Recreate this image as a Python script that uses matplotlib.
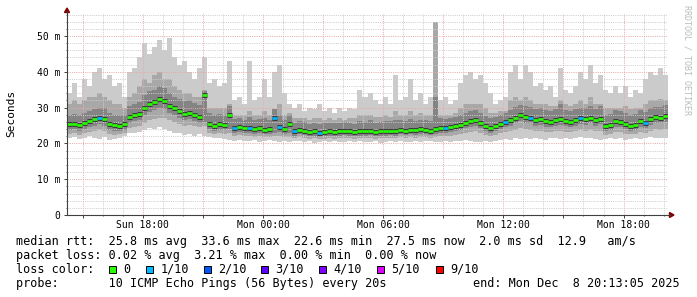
import numpy as np
import pandas as pd
import matplotlib
matplotlib.use('Agg')
import matplotlib.pyplot as plt
import matplotlib.dates as mdates
from matplotlib.ticker import MultipleLocator, FuncFormatter
from matplotlib.patches import Rectangle, Polygon
from matplotlib.lines import Line2D

plt.rcParams['font.family'] = ['DejaVu Sans Mono']

# ---------------- data (15-minute steps, values in ms) ----------------
start_time = '2025-12-07 14:13:05'
step = '15min'

median = [25.3, 25.5, 25.2, 25.6, 26.2, 26.8, 27.2, 26.8, 25.5, 25.2,
          25.0, 25.3, 27.4, 28.0, 28.3, 29.8, 31.0, 31.6, 32.5, 31.8,
          30.4, 29.8, 29.0, 28.3, 28.6, 28.0, 27.5, 33.6, 25.5, 25.0,
          25.3, 25.2, 28.0, 24.3, 24.5, 24.2, 24.4, 24.0, 24.3, 23.8,
          24.0, 27.0, 24.5, 24.0, 25.5, 23.5, 23.8, 23.6, 23.2, 23.4,
          23.0, 23.3, 23.5, 23.3, 23.4, 23.6, 23.4, 23.2, 23.5, 23.4,
          23.6, 23.2, 23.5, 23.4, 23.6, 23.5, 23.8, 23.6, 23.8, 23.7,
          24.0, 23.8, 23.6, 24.0, 24.4, 24.3, 24.6, 24.8, 25.2, 25.8,
          26.2, 26.5, 25.6, 24.8, 24.4, 24.8, 25.4, 26.0, 26.4, 27.2,
          27.8, 27.4, 27.2, 26.5, 26.8, 26.2, 26.0, 26.6, 26.8, 26.3,
          26.0, 26.5, 27.0, 26.8, 27.2, 26.6, 26.9, 24.8, 25.2, 26.2,
          26.0, 25.3, 25.0, 25.2, 26.2, 25.8, 26.8, 27.3, 27.2, 27.6]

loss = [0, 0, 0, 0, 0, 0, 1, 0, 0, 0, 0, 0, 0, 0, 0, 0, 0, 0, 0, 0,
        0, 0, 0, 0, 0, 0, 0, 0, 0, 0, 0, 0, 0, 1, 0, 0, 1, 0, 0, 0,
        0, 1, 1, 0, 0, 1, 0, 0, 0, 0, 1, 0, 0, 0, 0, 0, 0, 0, 0, 0,
        0, 0, 0, 0, 0, 0, 0, 0, 0, 0, 0, 0, 0, 0, 0, 1, 0, 0, 0, 0,
        0, 0, 0, 0, 0, 0, 0, 1, 0, 0, 0, 0, 1, 0, 0, 0, 0, 0, 0, 0,
        0, 0, 1, 0, 0, 0, 0, 0, 0, 0, 0, 0, 0, 0, 0, 1, 0, 0, 0, 0]

ping_max = [34, 37, 33, 38, 36, 40, 41, 38, 39, 36,
            37, 33, 40, 41, 44, 48, 45, 47, 49, 46,
            49.5, 44, 42, 43, 40, 38, 41, 44, 37, 38,
            36, 37, 43, 32, 33, 31, 43, 32, 33, 38,
            33, 40, 42, 34, 31, 30, 31, 29, 30, 29.5,
            31, 29, 30, 28.5, 30, 29, 30, 29.5, 35, 33,
            34, 32, 31, 33, 31, 39, 32, 33, 38, 32,
            34, 31, 33, 35, 32, 33, 31, 32, 37, 39,
            40, 38, 39, 37, 34, 31, 32, 33, 40, 42,
            38, 42, 40, 36, 37, 35, 36, 33, 41, 35,
            34, 36, 40, 38, 42, 37, 39, 35, 34, 36,
            34, 36, 33, 35, 34, 38, 40, 39, 41, 39]

ping_min = [21.5, 21.8, 21.2, 21.6, 22.0, 21.5, 21.3, 21.8, 21.0, 21.2,
            21.6, 22.0, 22.8, 23.0, 23.2, 23.8, 24.2, 24.0, 24.5, 24.0,
            23.6, 23.0, 22.8, 22.4, 22.6, 22.0, 22.5, 22.2, 21.8, 21.5,
            21.6, 21.2, 21.0, 20.8, 21.0, 20.6, 20.8, 21.0, 20.5, 20.8,
            21.0, 20.6, 20.4, 20.8, 20.5, 20.6, 20.8, 20.4, 20.6, 20.2,
            20.5, 20.8, 20.4, 20.6, 20.3, 20.5, 20.7, 20.4, 20.6, 20.3,
            20.5, 20.6, 20.2, 20.5, 20.7, 20.4, 20.6, 20.3, 20.5, 20.7,
            20.4, 20.6, 20.8, 20.5, 20.4, 20.7, 20.5, 20.8, 20.6, 21.0,
            20.8, 20.5, 20.3, 20.6, 20.4, 20.8, 21.0, 21.2, 21.0, 21.4,
            21.2, 21.5, 21.2, 21.6, 21.3, 21.0, 21.4, 21.6, 21.2, 21.5,
            21.3, 21.6, 21.8, 21.4, 21.6, 21.2, 21.0, 21.3, 21.5, 21.2,
            21.4, 21.0, 21.3, 21.5, 21.2, 21.6, 21.8, 21.4, 21.6, 21.5]

mid_hi = [31, 32, 31, 32, 33, 33, 34, 33, 32, 31,
          31, 30, 33, 34, 36, 38, 37, 39, 40, 38,
          38, 36, 35, 34, 34, 33, 33, 35, 30, 30,
          30, 30, 31, 28, 28, 28, 29, 28, 28, 29,
          28, 29, 31, 28, 28.5, 27, 27, 27, 26.5, 27,
          27, 26.5, 27, 26.5, 27, 26.5, 27, 27, 28, 28,
          28, 27.5, 27.5, 28, 27.5, 29, 28, 28, 29, 28,
          28.5, 28, 28, 54, 28, 28, 28, 28.5, 30, 31,
          31, 31, 31, 30, 28.5, 28.5, 29, 29, 32, 33,
          32, 33, 32, 31, 31, 31, 30.5, 30.5, 32, 31,
          30.5, 31, 32, 31, 33, 31, 31, 30, 30, 30,
          30, 30.5, 29.5, 30, 30, 31, 32, 32, 32.5, 32]

mid_lo = [22.6, 22.8, 22.4, 22.8, 23.2, 23.6, 23.8, 23.5, 22.6, 22.4,
          22.5, 22.8, 24.2, 24.6, 24.8, 25.8, 26.5, 26.8, 27.2, 27.0,
          26.4, 26.0, 25.5, 25.0, 25.2, 24.8, 24.5, 24.8, 23.0, 22.6,
          22.8, 22.6, 23.0, 22.2, 22.3, 22.0, 22.2, 21.9, 22.1, 21.8,
          21.9, 22.0, 22.2, 21.9, 21.8, 21.5, 21.7, 21.5, 21.2, 21.4,
          21.1, 21.3, 21.5, 21.3, 21.4, 21.5, 21.4, 21.2, 21.5, 21.4,
          21.5, 21.2, 21.5, 21.4, 21.5, 21.5, 21.7, 21.5, 21.7, 21.6,
          21.8, 21.7, 21.5, 21.8, 22.0, 22.0, 22.2, 22.4, 22.6, 23.0,
          23.2, 23.4, 22.8, 22.3, 22.0, 22.3, 22.8, 23.2, 23.4, 23.8,
          24.2, 24.0, 23.8, 23.4, 23.6, 23.2, 23.1, 23.5, 23.6, 23.3,
          23.1, 23.4, 23.7, 23.6, 23.8, 23.5, 23.6, 22.4, 22.6, 23.2,
          23.1, 22.7, 22.5, 22.6, 23.2, 23.0, 23.6, 23.9, 23.8, 24.0]

inner_hi = [28.0, 28.2, 27.8, 28.4, 29.0, 29.6, 30.0, 29.8, 28.5, 28.0,
            27.8, 28.0, 30.5, 31.0, 31.5, 33.5, 34.5, 35.0, 36.0, 35.5,
            34.0, 33.0, 32.5, 31.8, 32.0, 31.2, 30.8, 34.5, 28.5, 28.0,
            28.2, 28.0, 30.5, 26.8, 27.0, 26.6, 27.5, 26.5, 26.8, 27.0,
            26.5, 29.5, 28.0, 26.5, 28.0, 25.8, 26.2, 26.0, 25.5, 25.8,
            25.4, 25.6, 25.8, 25.6, 25.8, 26.0, 25.8, 25.5, 26.2, 26.0,
            26.4, 25.8, 26.0, 26.2, 26.2, 26.5, 26.4, 26.2, 26.8, 26.3,
            26.6, 26.4, 26.2, 33.0, 27.0, 26.8, 27.2, 27.5, 28.0, 28.6,
            29.0, 29.4, 28.6, 27.6, 27.0, 27.4, 28.0, 28.6, 29.4, 30.2,
            30.8, 30.5, 30.2, 29.5, 29.8, 29.2, 29.0, 29.5, 31.0, 29.4,
            29.0, 29.5, 30.0, 29.8, 30.4, 29.6, 30.5, 28.0, 28.2, 29.2,
            29.0, 28.4, 28.0, 28.2, 29.2, 28.8, 29.8, 30.3, 30.2, 30.6]

inner_lo = [23.7, 23.9, 23.6, 24.0, 24.6, 25.0, 25.4, 25.0, 23.8, 23.6,
            23.4, 23.7, 25.6, 26.2, 26.5, 27.8, 28.8, 29.4, 30.0, 29.6,
            28.4, 28.0, 27.2, 26.6, 26.8, 26.2, 25.8, 26.0, 24.0, 23.6,
            23.8, 23.7, 24.0, 23.0, 23.2, 22.9, 23.0, 22.7, 23.0, 22.5,
            22.7, 23.0, 23.1, 22.7, 22.8, 22.2, 22.5, 22.3, 22.0, 22.1,
            21.8, 22.0, 22.2, 22.0, 22.1, 22.3, 22.1, 22.0, 22.2, 22.1,
            22.3, 22.0, 22.2, 22.1, 22.3, 22.2, 22.5, 22.3, 22.5, 22.4,
            22.7, 22.5, 22.3, 22.7, 23.0, 23.0, 23.2, 23.4, 23.8, 24.3,
            24.7, 25.0, 24.2, 23.4, 23.0, 23.4, 24.0, 24.5, 24.9, 25.6,
            26.2, 25.8, 25.6, 25.0, 25.2, 24.7, 24.5, 25.0, 25.2, 24.8,
            24.5, 25.0, 25.4, 25.2, 25.6, 25.0, 25.3, 23.4, 23.8, 24.7,
            24.5, 23.9, 23.6, 23.8, 24.7, 24.3, 25.2, 25.7, 25.6, 26.0]

y_ticks = [0, 10, 20, 30, 40, 50]

legend_rows = [
    "median rtt:  25.8 ms avg  33.6 ms max  22.6 ms min  27.5 ms now  2.0 ms sd  12.9   am/s",
    "packet loss: 0.02 % avg  3.21 % max  0.00 % min  0.00 % now",
    "loss color:",
    "probe:       10 ICMP Echo Pings (56 Bytes) every 20s",
]
end_text = "end: Mon Dec  8 20:13:05 2025"
loss_labels = ['0', '1/10', '2/10', '3/10', '4/10', '5/10', '9/10']
loss_colors = ['#26ff00', '#00b8ff', '#0059ff', '#5e00ff', '#7e00ff', '#dd00ff', '#ff0000']

# ---------------- figure ----------------
W, H = 697, 297
fig = plt.figure(figsize=(W / 100, H / 100), dpi=100)
fig.patch.set_facecolor('white')


def fx(px):
    return px / W


def fy(py):
    return 1 - py / H


ax = fig.add_axes([fx(67), fy(215), (668 - 67) / W, (215 - 14) / H])
ax.set_facecolor('white')

n = len(median)
edges = pd.date_range(start_time, periods=n + 1, freq=step)
x = mdates.date2num(edges.to_pydatetime())


def ext(a):
    a = np.asarray(a, dtype=float)
    return np.append(a, a[-1])


ax.fill_between(x, ext(ping_min), ext(ping_max), step='post', color='#cbcbcb', lw=0, zorder=1)
ax.fill_between(x, ext(mid_lo), ext(mid_hi), step='post', color='#a8a8a8', lw=0, zorder=1.1)
ax.fill_between(x, ext(inner_lo), ext(inner_hi), step='post', color='#848484', lw=0, zorder=1.2)

# median: dark halo then coloured dashes (one per step, coloured by loss)
ax.hlines(median, x[:-1], x[1:], color='#3c3c3c', lw=3.6, zorder=3)
seg_colors = [loss_colors[l] for l in loss]
ax.hlines(median, x[:-1], x[1:], colors=seg_colors, lw=1.9, zorder=4)

ax.set_xlim(x[0], x[-1])
ax.set_ylim(0, 201 / 3.58)

ax.xaxis.set_major_locator(mdates.HourLocator(byhour=range(0, 24, 3)))
ax.xaxis.set_minor_locator(mdates.HourLocator())


def xfmt(v, pos):
    d = mdates.num2date(v)
    return d.strftime('%a %H:%M') if d.hour % 6 == 0 else ''


ax.xaxis.set_major_formatter(FuncFormatter(xfmt))
ax.set_yticks(y_ticks)
ax.yaxis.set_minor_locator(MultipleLocator(2))
ax.yaxis.set_major_formatter(FuncFormatter(lambda v, p: '0' if v == 0 else f'{int(v)} m'))

ax.set_axisbelow(False)
dot = (0, (1, 1.2))
ax.grid(which='minor', color='#cdcdcd', linestyle=dot, linewidth=0.72)
ax.grid(which='major', color='#e7aaaa', linestyle=dot, linewidth=0.72)

for s in ['top', 'right']:
    ax.spines[s].set_visible(False)
for s in ['left', 'bottom']:
    ax.spines[s].set_color('#404040')
    ax.spines[s].set_linewidth(0.8)
    ax.spines[s].set_zorder(6)

ax.tick_params(axis='both', which='major', length=2, width=0.7, color='#404040',
               labelsize=7, labelcolor='#000000')
ax.tick_params(axis='both', which='minor', length=1, width=0.6, color='#404040')
ax.tick_params(axis='x', which='major', pad=1.5)
ax.tick_params(axis='y', which='major', pad=3)

# axis extensions and arrows
fig.add_artist(Line2D([fx(67), fx(67)], [fy(14), fy(11)], color='#404040', lw=0.8))
fig.add_artist(Line2D([fx(668), fx(670)], [fy(215), fy(215)], color='#404040', lw=0.8))
fig.add_artist(Polygon([(fx(67), fy(8)), (fx(64.5), fy(12.5)), (fx(69.5), fy(12.5))],
                       closed=True, color='#800000', transform=fig.transFigure))
fig.add_artist(Polygon([(fx(674), fy(215)), (fx(669.5), fy(212.5)), (fx(669.5), fy(217.5))],
                       closed=True, color='#800000', transform=fig.transFigure))

fig.text(fx(11), fy(113), 'Seconds', rotation=90, ha='center', va='center', fontsize=8)
fig.text(fx(687), fy(60), 'RRDTOOL / TOBI OETIKER', rotation=270, ha='center', va='center',
         fontsize=6, color='#bbbbbb')

# legend text
row_y = [241.7, 255.5, 269.2, 283.3]
for txt, yy in zip(legend_rows, row_y):
    fig.text(fx(16), fy(yy), txt, ha='left', va='center', fontsize=8.5)
fig.text(fx(680), fy(row_y[3]), end_text, ha='right', va='center', fontsize=8.5)

box_x = [109, 146, 203.5, 261, 319, 377, 436]
for bx, c, lab in zip(box_x, loss_colors, loss_labels):
    fig.add_artist(Rectangle((fx(bx), fy(row_y[2] + 3.6)), 7 / W, 7 / H, facecolor=c,
                             edgecolor='black', lw=0.7, transform=fig.transFigure))
    fig.text(fx(bx + 14.5), fy(row_y[2]), lab, ha='left', va='center', fontsize=8.5)

fig.savefig('out.png', dpi=100, facecolor='white')
